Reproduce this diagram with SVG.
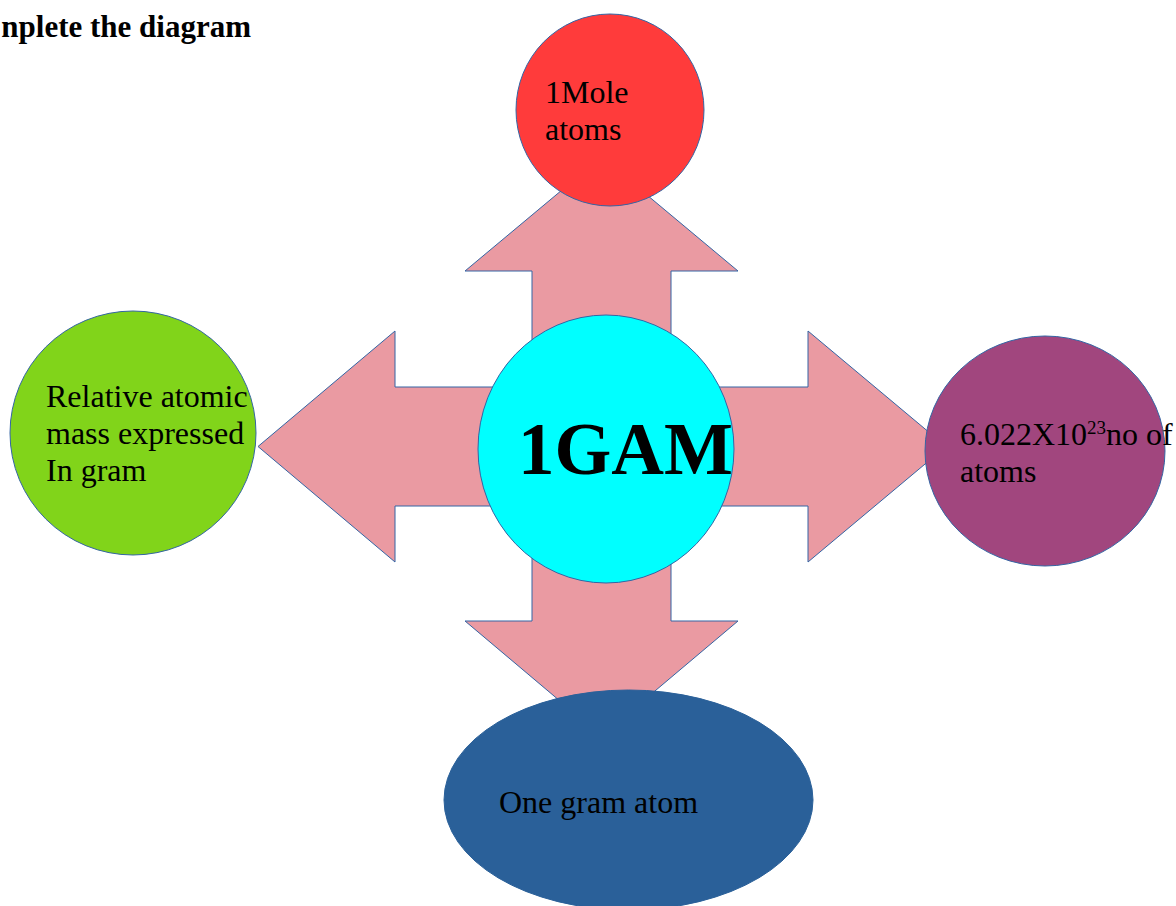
<svg xmlns="http://www.w3.org/2000/svg" width="1176" height="906" viewBox="0 0 1176 906">
<style>
.t{font-family:"Liberation Serif","Times New Roman",serif;fill:#000}
.lbl{font-size:32px}
.node{stroke:#3465A4;stroke-width:1}
</style>
<rect width="1176" height="906" fill="#ffffff"/>
<text id="title" class="t" x="251" y="37" font-size="31" font-weight="bold" text-anchor="end">nplete the diagram</text>
<g id="connectors">
<polygon points="601.5,157 738,271 671,271 671,387 808,387 808,331 946,446.5 808,562 808,506 671,506 671,621 738,621 601.5,736 465,621 532,621 532,506 395,506 395,562 258,446.5 395,331 395,387 532,387 532,271 465,271" fill="#EA9AA2" stroke="#3465A4" stroke-width="1"/>
</g>
<g id="node-mole">
<ellipse class="node" cx="610" cy="110" rx="94" ry="96" fill="#FF3B3B"/>
<text class="t lbl" x="545" y="103">1Mole</text>
<text class="t lbl" x="545" y="140">atoms</text>
</g>
<g id="node-center">
<ellipse class="node" cx="606" cy="449" rx="128" ry="134" fill="#00FFFF"/>
<text class="t" x="518" y="474" font-size="73" font-weight="bold">1GAM</text>
</g>
<g id="node-relative">
<ellipse class="node" cx="133" cy="433" rx="123" ry="122" fill="#81D41A"/>
<text class="t lbl" x="46" y="407">Relative atomic</text>
<text class="t lbl" x="46" y="444">mass expressed</text>
<text class="t lbl" x="46" y="481">In gram</text>
</g>
<g id="node-avogadro">
<ellipse class="node" cx="1045" cy="451" rx="120" ry="115" fill="#A1467E"/>
<text class="t lbl" x="960" y="445">6.022X10<tspan font-size="19" dy="-11">23</tspan><tspan dy="11">no of</tspan></text>
<text class="t lbl" x="960" y="482">atoms</text>
</g>
<g id="node-gram-atom">
<ellipse cx="628.5" cy="800" rx="184.5" ry="110" fill="#2A6099" stroke="#2A6099" stroke-width="1"/>
<text class="t lbl" x="499" y="813">One gram atom</text>
</g>
</svg>
